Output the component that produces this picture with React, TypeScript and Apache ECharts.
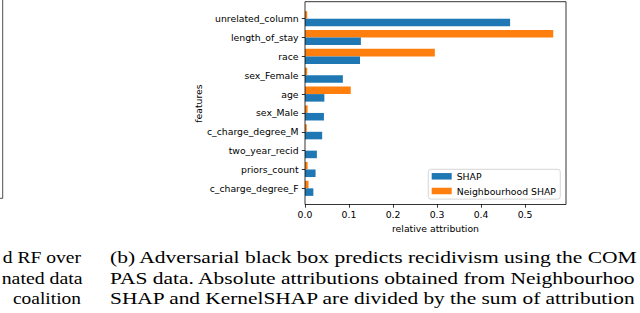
import React, { useEffect, useRef } from 'react';
import * as echarts from 'echarts';

const features = [
  'unrelated_column',
  'length_of_stay',
  'race',
  'sex_Female',
  'age',
  'sex_Male',
  'c_charge_degree_M',
  'two_year_recid',
  'priors_count',
  'c_charge_degree_F',
];
const shapValues = [0.466, 0.127, 0.125, 0.086, 0.044, 0.043, 0.039, 0.027, 0.024, 0.019];
const neighbourhoodValues = [0.005, 0.564, 0.295, 0.005, 0.104, 0.006, 0.004, 0.0, 0.006, 0.008];
const xTicks = [0, 0.1, 0.2, 0.3, 0.4, 0.5];
const xMax = 0.593;
const legendNames = ['SHAP', 'Neighbourhood SHAP'];
const captionLeft = ['d RF over', 'nated data', 'coalition'];
const captionRight = [
  '(b) Adversarial black box predicts recidivism using the COM',
  'PAS data. Absolute attributions obtained from Neighbourhoo',
  'SHAP and KernelSHAP are divided by the sum of attribution',
];

export default function App() {
  const ref = useRef<HTMLDivElement>(null);
  useEffect(() => {
    if (!ref.current) return;
    const chart = echarts.init(ref.current, null, { renderer: 'svg', width: 640, height: 313 });
    const font = 'DejaVu Sans';
    const fs = 9.3;
    const capFs = 16.6;
    const capFont = `${capFs}px "Liberation Serif"`;
    const ctx = document.createElement('canvas').getContext('2d') as CanvasRenderingContext2D;
    ctx.font = capFont;
    const measure = (t: string) => ctx.measureText(t).width || t.length * capFs * 0.45;
    const baselines = [263.3, 284.0, 304.0];
    const leftSpans = [
      [2.7, 81],
      [1.7, 82.7],
      [13, 81],
    ];
    const rightSpans = [
      [110, 638],
      [110, 636],
      [110, 636],
    ];
    const capTexts: any[] = [];
    const addLine = (t: string, span: number[], i: number) => {
      const w = measure(t);
      capTexts.push({
        type: 'text',
        x: span[0],
        y: baselines[i] - 0.3375 * capFs,
        scaleX: (span[1] - span[0]) / w,
        style: {
          text: t,
          x: 0,
          y: 0,
          align: 'left',
          verticalAlign: 'middle',
          font: capFont,
          fill: '#000',
        },
      });
    };
    captionLeft.forEach((t, i) => addLine(t, leftSpans[i], i));
    captionRight.forEach((t, i) => addLine(t, rightSpans[i], i));
    const option: any = {
      animation: false,
      backgroundColor: '#ffffff',
      grid: { left: 305, width: 261, top: 9.27, height: 188.5 },
      xAxis: {
        type: 'value',
        min: 0,
        max: xMax,
        position: 'bottom',
        offset: 6.73,
        axisLine: { show: false },
        splitLine: { show: false },
        axisTick: {
          show: true,
          length: 3.2,
          customValues: xTicks,
          lineStyle: { color: '#000', width: 0.8 },
        },
        axisLabel: {
          customValues: xTicks,
          formatter: (v: number) => v.toFixed(1),
          fontSize: fs,
          fontFamily: font,
          color: '#000',
          margin: 5.5,
        },
        name: 'relative attribution',
        nameLocation: 'middle',
        nameGap: 18,
        nameTextStyle: { fontSize: fs, fontFamily: font, color: '#000' },
      },
      yAxis: {
        type: 'category',
        data: features,
        inverse: true,
        axisLine: { show: false },
        splitLine: { show: false },
        axisTick: {
          show: true,
          alignWithLabel: true,
          length: 3.2,
          lineStyle: { color: '#000', width: 0.8 },
        },
        axisLabel: { fontSize: fs, fontFamily: font, color: '#000', margin: 6.4 },
        name: 'features',
        nameLocation: 'middle',
        nameRotate: 90,
        nameGap: 101,
        nameTextStyle: { fontSize: fs, fontFamily: font, color: '#000' },
      },
      legend: {
        data: legendNames,
        orient: 'vertical',
        left: 428.3,
        top: 169.3,
        itemWidth: 20,
        itemHeight: 6.5,
        itemGap: 3.7,
        padding: [1.5, 4.4, 2.6, 3.4],
        borderColor: '#cccccc',
        borderWidth: 0.8,
        borderRadius: 2.5,
        backgroundColor: 'rgba(255,255,255,0.8)',
        icon: 'rect',
        textStyle: { fontSize: fs, fontFamily: font, color: '#000', lineHeight: 11 },
      },
      series: [
        {
          name: legendNames[1],
          type: 'bar',
          data: neighbourhoodValues,
          barWidth: 7.54,
          barGap: '0%',
          itemStyle: { color: '#ff7f0e' },
        },
        {
          name: legendNames[0],
          type: 'bar',
          data: shapValues,
          barWidth: 7.54,
          barGap: '0%',
          itemStyle: { color: '#1f77b4' },
        },
      ],
      graphic: [
        {
          type: 'rect',
          z: 100,
          shape: { x: 305, y: 1.7, width: 261, height: 202.8 },
          style: { fill: 'none', stroke: '#000', lineWidth: 0.8 },
        },
        {
          type: 'polyline',
          z: 100,
          shape: { points: [[0, 198.3], [2.7, 198.3], [2.7, 0]] },
          style: { fill: 'none', stroke: '#222', lineWidth: 0.8 },
        },
        ...capTexts,
      ],
    };
    chart.setOption(option);
    return () => chart.dispose();
  }, []);
  return (
    <div
      ref={ref}
      style={{ position: 'absolute', left: 0, top: 0, width: 640, height: 313, overflow: 'hidden' }}
    />
  );
}
